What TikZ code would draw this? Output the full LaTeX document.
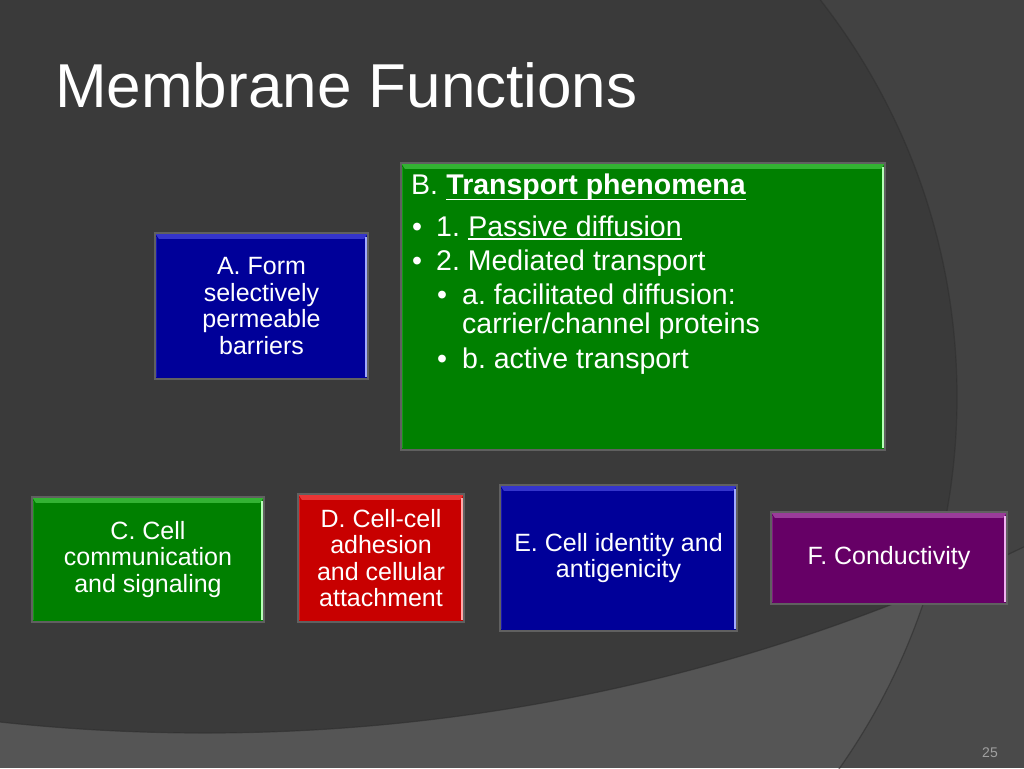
\documentclass[tikz,border=0pt]{standalone}
\usepackage{fontspec}
\setmainfont{Liberation Sans}
\definecolor{bgdark}{HTML}{3A3A3A}
\definecolor{bgtr}{HTML}{424242}
\definecolor{bgbot}{HTML}{555555}
\definecolor{bgbr}{HTML}{4A4A4A}
\definecolor{edgeline}{HTML}{2E2E2E}
\definecolor{cardline}{HTML}{606060}
\definecolor{cblue}{HTML}{000099}
\definecolor{cbluetop}{HTML}{3535CC}
\definecolor{cblueedge}{HTML}{A0A8FF}
\definecolor{cgreen}{HTML}{008000}
\definecolor{cgreentop}{HTML}{33B333}
\definecolor{cgreenedge}{HTML}{B8FFB8}
\definecolor{cred}{HTML}{C80000}
\definecolor{credtop}{HTML}{EA3535}
\definecolor{crededge}{HTML}{FFA8A8}
\definecolor{cpurple}{HTML}{660066}
\definecolor{cpurpletop}{HTML}{9A3C9A}
\definecolor{cpurpleedge}{HTML}{F0B0F0}
\definecolor{pagenum}{HTML}{A0A0A0}
\newcommand\mybevel[3]{%
  \fill[#2] (#1.north west) -- (#1.north east) -- ([xshift=-4pt,yshift=-6pt]#1.north east) -- ([xshift=4pt,yshift=-6pt]#1.north west) -- cycle;
  \fill[#3] ([xshift=-3pt,yshift=-4pt]#1.north east) rectangle ([xshift=-0.5pt,yshift=2pt]#1.south east);
  \fill[#2, opacity=0.5] ([yshift=-4pt]#1.north west) rectangle ([xshift=2.5pt,yshift=2pt]#1.south west);
  \draw[cardline, line width=2pt] (#1.north west) rectangle (#1.south east);
}
\begin{document}
\frenchspacing
\begin{tikzpicture}[x=1pt,y=-1pt,
  card/.style={inner sep=0pt, align=center, text=white, font=\fontsize{25}{26.5}\selectfont},
  btext/.style={inner sep=0pt, anchor=base west, text=white, font=\fontsize{28.5}{33}\selectfont},
  uline/.style={white, line width=1.6pt},
  arcline/.style={edgeline, line width=1.2pt, opacity=0.6}]
\useasboundingbox (0,0) rectangle (1024,768);
% background
\fill[bgbr] (0,0) rectangle (1024,768);
\begin{scope}
  \clip (205,-1157) circle [radius=1890pt];
  \fill[bgtr] (0,0) rectangle (1024,768);
\end{scope}
\begin{scope}
  \clip (312,397) circle [radius=645pt];
  \fill[bgbot] (0,0) rectangle (1024,768);
  \clip (205,-1157) circle [radius=1890pt];
  \fill[bgdark] (0,0) rectangle (1024,768);
\end{scope}
\begin{scope}
  \clip (0,0) rectangle (1024,768);
  \draw[arcline] (312,397) circle [radius=645pt];
  \draw[arcline] (205,-1157) circle [radius=1890pt];
\end{scope}
% title
\node[anchor=base west, inner sep=0pt, text=white, font=\fontsize{62}{70}\selectfont] (title) at (55,107) {Membrane Functions};
% boxes
\node[card, fill=cblue, minimum width=213pt, minimum height=146pt] (A) at (261.5,306) {A. Form\\selectively\\permeable\\barriers};
\mybevel{A}{cbluetop}{cblueedge}
\node[card, fill=cgreen, minimum width=484pt, minimum height=287pt] (B) at (643,306.5) {};
\mybevel{B}{cgreentop}{cgreenedge}
\node[card, fill=cgreen, minimum width=232pt, minimum height=125pt] (C) at (148,559.5) {C. Cell\\communication\\and signaling};
\mybevel{C}{cgreentop}{cgreenedge}
\node[card, fill=cred, minimum width=166pt, minimum height=128pt] (D) at (381,558) {D. Cell-cell\\adhesion\\and cellular\\attachment};
\mybevel{D}{credtop}{crededge}
\node[card, fill=cblue, minimum width=237pt, minimum height=146pt] (E) at (618.5,558) {E. Cell identity and\\antigenicity};
\mybevel{E}{cbluetop}{cblueedge}
\node[card, fill=cpurple, minimum width=236pt, minimum height=92pt] (F) at (889,558) {F. Conductivity};
\mybevel{F}{cpurpletop}{cpurpleedge}
% B contents
\node[btext] (b0) at (411,194) {B.};
\node[btext] (b0u) at ([xshift=7.9pt]b0.base east) {\textbf{Transport phenomena}};
\draw[uline] ([yshift=-5.5pt]b0u.base west) -- ([yshift=-5.5pt]b0u.base east);
\node[btext] (u1) at (412,236) {•};
\node[btext] (b1) at (436,236) {1.};
\node[btext] (b1u) at ([xshift=7.9pt]b1.base east) {Passive diffusion};
\draw[uline] ([yshift=-3pt]b1u.base west) -- ([yshift=-3pt]b1u.base east);
\node[btext] (u2) at (412,270) {•};
\node[btext] (b2) at (436,270) {2. Mediated transport};
\node[btext] (u3) at (437,304) {•};
\node[btext] (b3) at (462,304) {a. facilitated diffusion:};
\node[btext] (b4) at (462,333) {carrier/channel proteins};
\node[btext] (u5) at (437,368) {•};
\node[btext] (b5) at (462,368) {b. active transport};
% page number
\node[anchor=base east, inner sep=0pt, text=pagenum, font=\fontsize{14}{16}\selectfont] (pg) at (998,757) {25};
\end{tikzpicture}
\end{document}
